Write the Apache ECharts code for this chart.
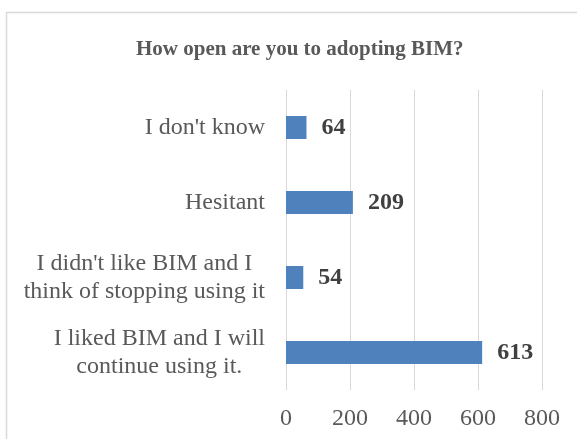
<!DOCTYPE html>
<html>
<head>
<meta charset="utf-8">
<script src="https://cdn.jsdelivr.net/npm/echarts@6/dist/echarts.min.js"></script>
<style>
html,body{margin:0;padding:0;background:#fff;}
#c{width:577px;height:439px;}
</style>
</head>
<body>
<div id="c"></div>
<script>
var titleText = "How open are you to adopting BIM?";
var categories = [
  "I don't know",
  "Hesitant",
  "I didn't like BIM and I\nthink of stopping using it",
  "I liked BIM and I will\ncontinue using it."
];
var values = [64, 209, 54, 613];
var xTicks = { min: 0, max: 800, interval: 200 };

var chart = echarts.init(document.getElementById('c'));
var serif = "'Liberation Serif', 'Times New Roman', serif";
chart.setOption({
  animation: false,
  title: {
    text: titleText,
    left: 131,
    top: 34,
    textStyle: { fontFamily: serif, fontWeight: 'bold', fontSize: 21, color: '#595959' }
  },
  graphic: [{
    type: 'rect',
    shape: { x: 6.5, y: 12.5, width: 600, height: 500 },
    style: { fill: 'none', stroke: '#d9d9d9', lineWidth: 1.5 },
    silent: true
  }],
  grid: { left: 286, right: 35, top: 90, bottom: 49, containLabel: false },
  xAxis: {
    type: 'value',
    min: xTicks.min, max: xTicks.max, interval: xTicks.interval,
    axisLine: { show: false },
    axisTick: { show: false },
    splitLine: { show: true, lineStyle: { color: '#d9d9d9', width: 1 } },
    axisLabel: { fontFamily: serif, fontSize: 24, color: '#595959', margin: 17 }
  },
  yAxis: {
    type: 'category',
    inverse: true,
    data: categories,
    axisLine: { show: false },
    axisTick: { show: false },
    axisLabel: {
      margin: 21,
      formatter: function (v) {
        return v.split('\n').map(function (l) { return '{c|' + l + '}'; }).join('\n');
      },
      rich: {
        c: { fontFamily: serif, fontSize: 24, color: '#595959', align: 'center', lineHeight: 28 }
      }
    }
  },
  series: [{
    type: 'bar',
    data: values,
    barWidth: 23,
    itemStyle: { color: '#4f81bd' },
    label: {
      show: true,
      position: 'right',
      distance: 15,
      fontFamily: serif,
      fontWeight: 'bold',
      fontSize: 24,
      color: '#404040'
    }
  }]
});
</script>
</body>
</html>
